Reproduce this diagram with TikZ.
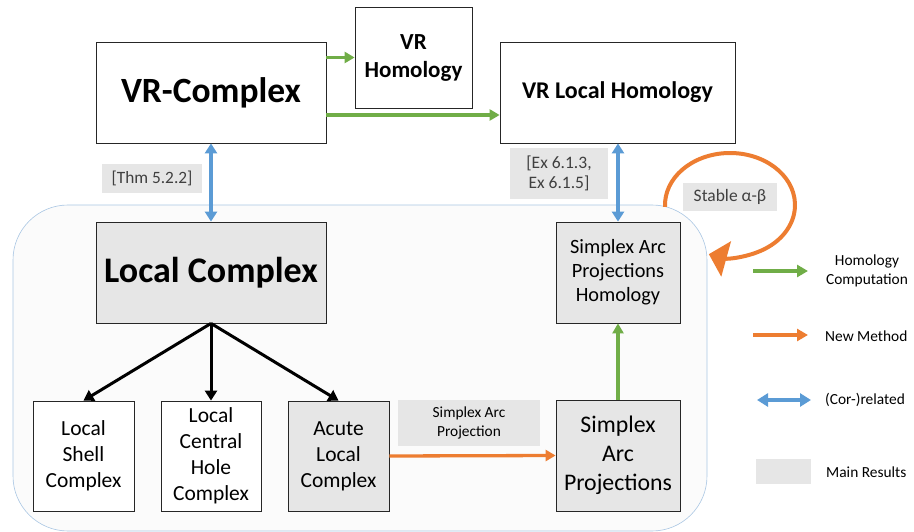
\documentclass[tikz,border=0pt]{standalone}
\usepackage{fontspec}
\setmainfont{Carlito}
\usetikzlibrary{arrows.meta,calc}

\definecolor{hgreen}{HTML}{70AD47}
\definecolor{horange}{HTML}{ED7D31}
\definecolor{hblue}{HTML}{5B9BD5}
\definecolor{mainfill}{HTML}{E6E6E6}
\definecolor{labeltext}{HTML}{404040}
\definecolor{regionfill}{HTML}{FBFBFB}
\definecolor{regionline}{HTML}{A9C6E3}

\tikzset{
  box/.style={draw=black!85, line width=0.8pt, fill=white, inner sep=0pt, align=center},
  mainbox/.style={box, fill=mainfill},
  tag/.style={fill=mainfill, text=labeltext, inner sep=0pt, align=center},
  garrow/.style={draw=hgreen, line width=3.3pt, -{Triangle[length=10pt,width=11pt]}},
  oarrow/.style={draw=horange, line width=3.3pt, -{Triangle[length=10pt,width=11pt]}},
  barrow/.style={draw=hblue, line width=3.3pt, {Triangle[length=10pt,width=12pt]}-{Triangle[length=10pt,width=12pt]}},
  karrow/.style={draw=black, line width=3pt, -{Triangle[length=10pt,width=12pt]}},
}

\begin{document}
\begin{tikzpicture}[x=1pt,y=-1pt]
\useasboundingbox (0,0) rectangle (914,532);

% shaded region holding the local constructions
\draw[regionline, fill=regionfill, line width=0.6pt, rounded corners=55pt]
  (13,205) rectangle (707,531);

% top row
\node[box, minimum width=230pt, minimum height=101pt, font=\fontsize{35.5}{40}\selectfont\bfseries]
  (vrc) at (211,92.5) {VR-Complex};
\node[box, minimum width=117pt, minimum height=101pt, font=\fontsize{23}{28}\selectfont\bfseries]
  (vrh) at (413.5,57.5) {VR\\Homology};
\node[box, minimum width=235pt, minimum height=101pt, font=\fontsize{24}{28}\selectfont\bfseries]
  (vrlh) at (617.5,92.5) {VR Local Homology};

% local complexes
\node[mainbox, minimum width=230pt, minimum height=101pt, font=\fontsize{36}{40}\selectfont\bfseries]
  (lc) at (211,272.5) {Local Complex};
\node[box, minimum width=101pt, minimum height=110pt, font=\fontsize{21.5}{26}\selectfont]
  (lsc) at (83.5,456) {Local\\Shell\\Complex};
\node[box, minimum width=100pt, minimum height=110pt, font=\fontsize{21.5}{26}\selectfont]
  (lchc) at (211,456) {Local\\Central\\Hole\\Complex};
\node[mainbox, minimum width=101pt, minimum height=110pt, font=\fontsize{21.5}{26}\selectfont]
  (alc) at (338.5,456) {Acute\\Local\\Complex};

% simplex arc projections
\node[mainbox, minimum width=124pt, minimum height=111pt, font=\fontsize{23.8}{29}\selectfont]
  (sap) at (618,455.5) {Simplex\\Arc\\Projections};
\node[mainbox, minimum width=124pt, minimum height=101pt, font=\fontsize{20.3}{24}\selectfont]
  (saph) at (618,272.5) {Simplex Arc\\Projections\\Homology};

% reference tags
\node[tag, minimum width=100pt, minimum height=29pt, font=\fontsize{17.3}{20}\selectfont]
  (thm) at (152,178.5) {[Thm 5.2.2]};
\node[tag, minimum width=98pt, minimum height=51pt, font=\fontsize{17.5}{20}\selectfont]
  (ex) at (559,173.5) {[Ex 6.1.3,\\Ex 6.1.5]};
\node[tag, minimum width=142pt, minimum height=46pt, font=\fontsize{15.4}{19}\selectfont, text=black]
  (sapl) at (469,423) {Simplex Arc\\Projection};

% connectors
\draw[garrow] (vrc.east |- vrh.west) -- (vrh.west);
\draw[garrow] ([yshift=-22.5pt]vrc.east) -- ([yshift=-22.5pt]vrlh.west);
\draw[barrow] (vrc.south) -- (lc.north);
\draw[barrow] (saph.north |- vrlh.south) -- (saph.north);
\draw[karrow] (lc.south) -- (lsc.north);
\draw[karrow] (lc.south) -- (lchc.north);
\draw[karrow] (lc.south) -- (alc.north);
\draw[oarrow] (alc.east) -- (sap.west);
\draw[garrow] (sap.north) -- (saph.south);

% stable alpha-beta loop (arc angles are in canvas orientation)
\coordinate (loopc) at (730,205);
\draw[horange, line width=4pt, -{Triangle[length=18pt,width=36pt]}]
  ($(loopc)+(182:65pt and 52pt)$) arc[start angle=182, end angle=-109, x radius=65pt, y radius=52pt];
\node[tag, minimum width=94pt, minimum height=28pt, font=\fontsize{17.5}{20}\selectfont]
  (stable) at (730,197) {Stable α-β};

% legend
\coordinate (lg1) at (753,271);  \coordinate (lg2) at (808,271);
\coordinate (lo1) at (753,335);  \coordinate (lo2) at (808,335);
\coordinate (lb1) at (757,400);  \coordinate (lb2) at (811,400);
\draw[hgreen, line width=4.5pt, -{Triangle[length=11pt,width=12pt]}] (lg1) -- (lg2);
\draw[horange, line width=4.5pt, -{Triangle[length=11pt,width=12pt]}] (lo1) -- (lo2);
\draw[hblue, line width=4.5pt, {Triangle[length=11pt,width=13pt]}-{Triangle[length=11pt,width=13pt]}] (lb1) -- (lb2);
\node[fill=mainfill, minimum width=55pt, minimum height=25pt, inner sep=0pt]
  (lgray) at (783.5,471.5) {};

\node[align=center, font=\fontsize{15.4}{19}\selectfont, inner sep=0pt] (lgt) at (867,271) {Homology\\Computation};
\node[anchor=west, font=\fontsize{15.4}{18}\selectfont, inner sep=0pt] (lot) at (825,336) {New Method};
\node[anchor=west, font=\fontsize{15.4}{18}\selectfont, inner sep=0pt] (lbt) at (825,400) {(Cor-)related};
\node[anchor=west, font=\fontsize{15.4}{18}\selectfont, inner sep=0pt] (lrt) at (826,472) {Main Results};
\end{tikzpicture}
\end{document}
